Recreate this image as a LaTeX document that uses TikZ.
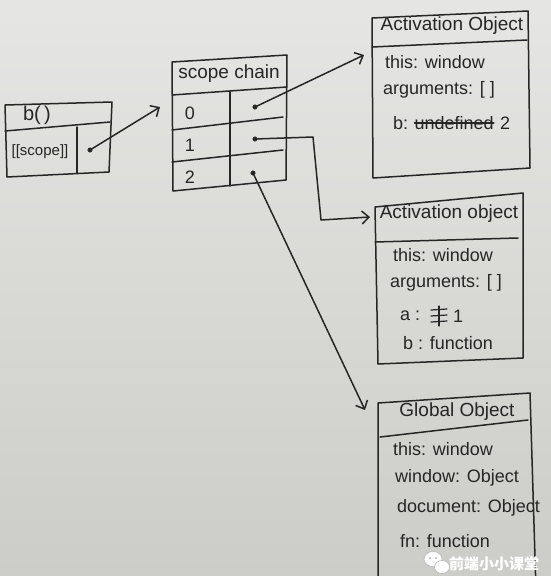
\documentclass[tikz,border=0pt]{standalone}
\usepackage{fontspec}
\setmainfont{Liberation Sans}
\newfontfamily\cjk{Noto Sans CJK SC}
\usepackage{tikz}
\usetikzlibrary{calc,arrows.meta,positioning}
\definecolor{ink}{RGB}{38,38,38}
\definecolor{paper}{RGB}{204,204,200}

\begin{document}
\begin{tikzpicture}
    [%%%%%%%%%%%%%%%%%%%%%%%%%%%%%%
        x=1pt,y=-1pt,
        pen/.style={draw=ink,line width=1.5pt,line join=round,line cap=round},
        dot/.style={circle,draw=ink,fill=ink,inner sep=1.6pt},
        hand/.style={text=ink,inner sep=0pt,font=\fontsize{18}{20}\selectfont},
        head/.style={hand,font=\fontsize{19}{21}\selectfont},
        row/.style={hand,anchor=west},
        link/.style={pen,-{Straight Barb[length=7pt,width=13pt]}},
        strike/.style={pen,line width=1.2pt},
    ]%%%%%%%%%%%%%%%%%%%%%%%%%%%%%%

\shade[top color=paper!50!white,bottom color=paper] (0,0) rectangle (551,576);
\useasboundingbox (0,0) rectangle (551,576);
\clip (0,0) rectangle (551,576);

% b()
\draw[pen] (5,105) -- (112,102) -- (109,172) -- (7,177) -- cycle;
\draw[pen] (5,131) -- (110,122);
\draw[pen] (77,127) -- (77,173);
\node[head,font=\fontsize{20}{22}\selectfont] (fname) at (37,115) {b(\,)};
\node[hand,font=\fontsize{15}{17}\selectfont] (fscope) at (40,152) {[[scope]]};
\node[dot] (fdot) at (90,150) {};

% scope chain
\draw[pen] (172,62) -- (287,55) -- (286,180) -- (173,191) -- cycle;
\draw[pen] (172,95) -- (287,87);
\draw[pen] (230,92) -- (230,186);
\draw[pen] (172,130) -- (283,117);
\draw[pen] (172,162) -- (283,150);
\node[head] (chain) at (229,74) {scope chain};
\foreach \i/\y in {0/113,1/145,2/177}{
	\node[hand] (idx\i) at (190,\y) {\i};
}
\node[dot] (slot0) at (255,107) {};
\node[dot] (slot1) at (255,139) {};
\node[dot] (slot2) at (253,173) {};

% activation object of b
\draw[pen] (372,18) -- (528,11) -- (530,168) -- (373,178) -- cycle;
\draw[pen] (372,47) -- (527,40);
\node[head] (aob) at (452,26) {Activation Object};
\node[row] (aobthis) at (385,62) {this: window};
\node[row] (aobargs) at (383,90) {arguments: [ ]};
\node[row] (aobb) at (393,123) {b:};
\node[row,right=6pt of aobb] (aobundef) {undefined};
\node[row,right=6pt of aobundef] (aobtwo) {2};
\draw[strike] (aobundef.west) -- (aobundef.east);

% activation object of a
\draw[pen] (375,207) -- (523,193) -- (523,358) -- (378,364) -- cycle;
\draw[pen] (375,242) -- (518,238);
\node[head] (aoa) at (449,214) {Activation object};
\node[row] (aoathis) at (393,255) {this: window};
\node[row] (aoaargs) at (390,283) {arguments: [ ]};
\node[row] (aoaa) at (400,316) {a :};
\coordinate (scrib) at (439,316);
\draw[strike] ($(scrib)+(0,-10)$) -- ($(scrib)+(0,10)$);
\foreach \d in {-6,0,6}{
	\draw[strike] ($(scrib)+(-8,\d)$) -- ($(scrib)+(8,\d-1)$);
}
\node[row] (aoaone) at (453,316) {1};
\node[row] (aoab) at (403,343) {b : function};

% global object
\draw[pen] (378,590) -- (378,403) -- (530,393) -- (536,590);
\draw[pen] (380,437) -- (528,420);
\node[head] (go) at (457,412) {Global Object};
\node[row] (gothis) at (393,449) {this: window};
\node[row] (gowin) at (395,478) {window: Object};
\node[row] (godoc) at (397,508) {document: Object};
\node[row] (gofn) at (400,541) {fn: function};

% connectors
\coordinate (chainin) at (160,107);
\coordinate (aobin) at (364,55);
\coordinate (bendtop) at (313,137);
\coordinate (bendlow) at (321,220);
\coordinate (aoain) at (370,217);
\coordinate (goin) at (365,410);
\draw[link] (fdot) -- (chainin);
\draw[link] (slot0) -- (aobin);
\draw[link] (slot1) -- (bendtop) -- (bendlow) -- (aoain);
\draw[link] (slot2) -- (goin);

% watermark
\coordinate (wechat) at (436,562);
\fill[white,draw=gray!60,line width=0.5pt] ($(wechat)+(-3,-3)$) ellipse (9pt and 7.5pt);
\fill[white,draw=gray!60,line width=0.5pt] ($(wechat)+(6,5)$) ellipse (7.5pt and 6.5pt);
\fill[gray!60] ($(wechat)+(-6,-4)$) circle (1pt) ($(wechat)+(0,-4)$) circle (1pt);
\node[text=white,font=\cjk\bfseries\fontsize{15}{17}\selectfont] (mark) at (494,564) {前端小小课堂};

\end{tikzpicture}
\end{document}
